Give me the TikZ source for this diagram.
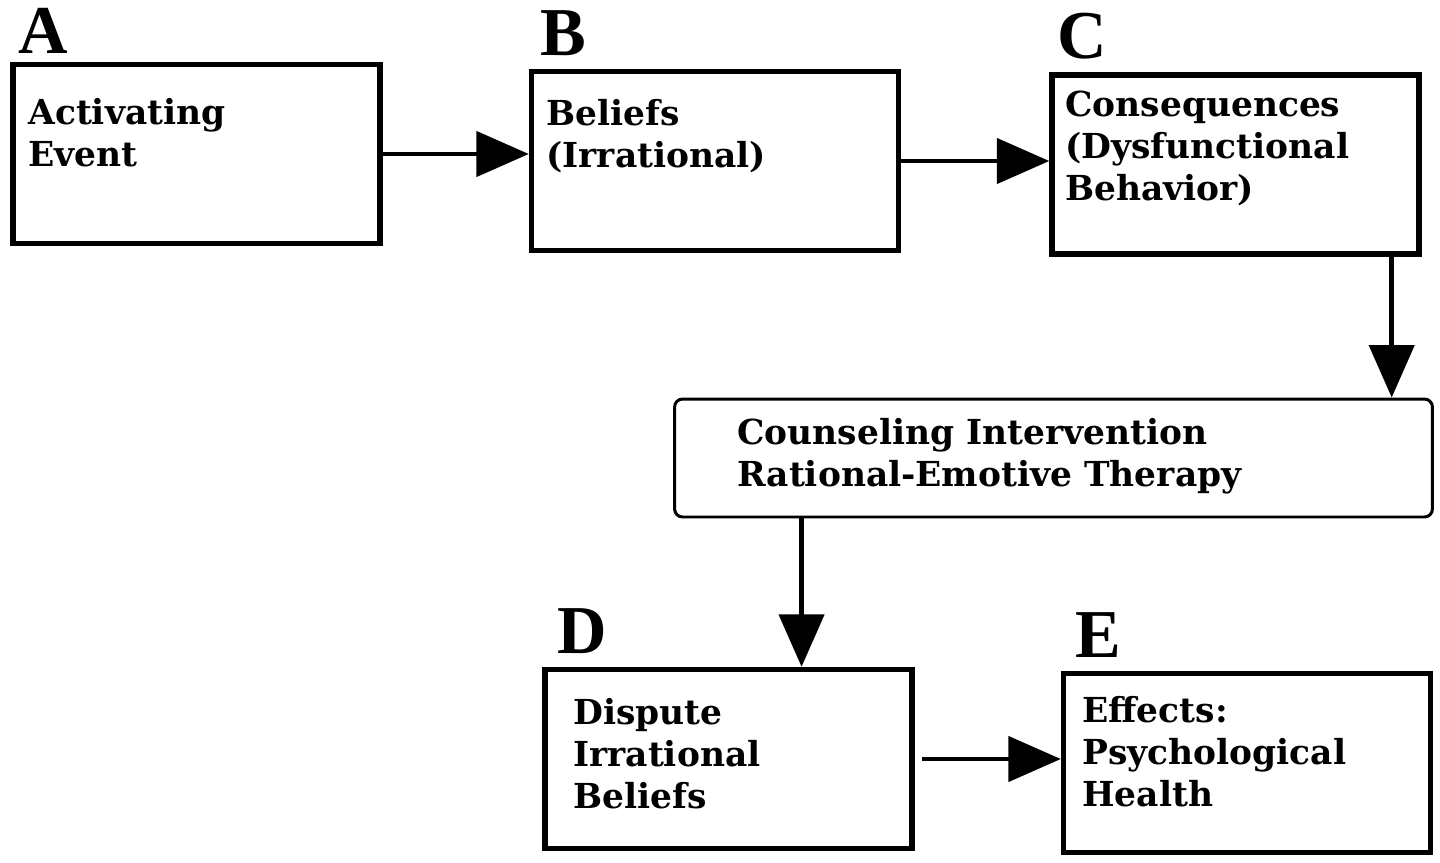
\documentclass[tikz,border=0pt]{standalone}
\usepackage{fontspec}
\setmainfont{DejaVu Serif}
\newfontfamily\letterfont{Liberation Serif}
\usetikzlibrary{arrows.meta}

\begin{document}
\begin{tikzpicture}[x=0.02cm,y=-0.02cm,
  box/.style={draw,line width=3.1pt,minimum width=7.34cm,minimum height=3.58cm,inner sep=0pt},
  rbox/.style={draw,line width=1.7pt,rounded corners=0.16cm,minimum width=15.16cm,minimum height=2.36cm,inner sep=0pt},
  txt/.style={anchor=base west,align=left,inner sep=0pt,font=\bfseries\fontsize{19.6}{23.8}\selectfont},
  lett/.style={anchor=base west,inner sep=0pt,font=\letterfont\bfseries\fontsize{39}{39}\selectfont},
  arr/.style={line width=2.6pt,-{Triangle[length=1.05cm,width=0.9cm]}}]
  \useasboundingbox (0,0) rectangle (1440,862);

  \node (A) at (196.5,154)[box]{};
  \node (B) at (715,161)[box]{};
  \node (C) at (1235.5,164.5)[box]{};
  \node (I) at (1053.5,458)[rbox]{};
  \node (D) at (728.5,759)[box]{};
  \node (E) at (1247,763)[box]{};

  \node (lA) at (18,53)[lett]{A};
  \node (lB) at (540,55)[lett]{B};
  \node (lC) at (1057,58)[lett]{C};
  \node (lD) at (557,653)[lett]{D};
  \node (lE) at (1075,657)[lett]{E};

  % base anchor sits on the last line
  \node (tA) at (28,166)[txt]{Activating\\Event};
  \node (tB) at (546,167)[txt]{Beliefs\\(Irrational)};
  \node (tC) at (1065,200)[txt]{Consequences\\(Dysfunctional\\Behavior)};
  \node (tI) at (737,486)[txt]{Counseling Intervention\\Rational-Emotive Therapy};
  \node (tD) at (573,808)[txt]{Dispute\\Irrational\\Beliefs};
  \node (tE) at (1082,806)[txt]{Effects:\\Psychological\\Health};

  \draw[arr](A.east)--(B.west |- A.east);
  \draw[arr](B.east)--(C.west |- B.east);
  \draw[arr]([xshift=-0.6cm]C.south east)--([xshift=-0.6cm]C.south east |- I.north);
  \draw[arr]([xshift=2.57cm]I.south west)--([xshift=2.57cm]I.south west |- D.north);
  \draw[arr]([xshift=0.15cm]D.east)--(E.west |- D.east);
\end{tikzpicture}
\end{document}
